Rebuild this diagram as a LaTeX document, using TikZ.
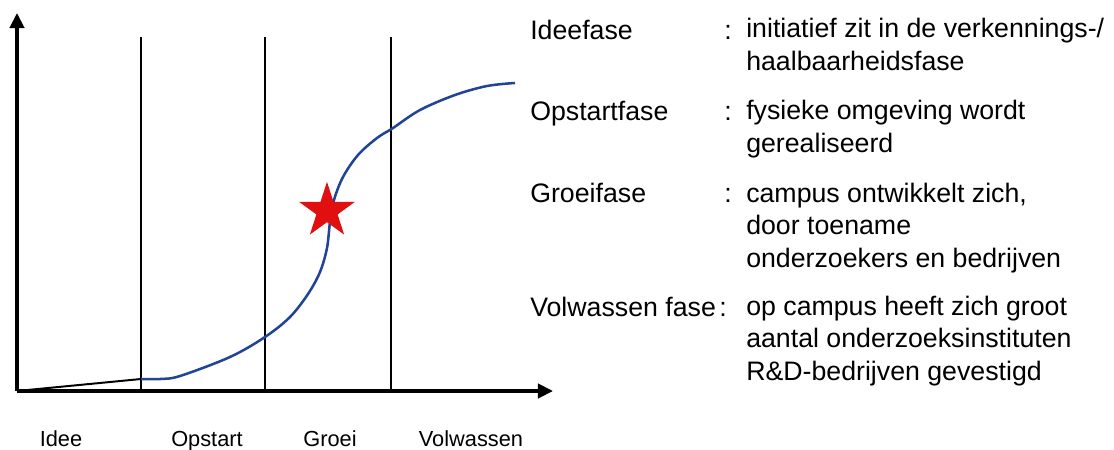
\documentclass[tikz,border=0pt]{standalone}
\usepackage{fontspec}
\setmainfont{Liberation Sans}
\usetikzlibrary{arrows.meta,shapes.geometric}
\definecolor{curveblue}{RGB}{34,68,150}
\definecolor{starred}{RGB}{225,16,16}
\begin{document}
\begin{tikzpicture}[x=0.025cm, y=-0.025cm,
        axis/.style={line width=2.5pt, -{Triangle[length=0.38cm, width=0.36cm]}},
        phaseline/.style={line width=1.4pt},
        growth/.style={curveblue, line width=1.8pt},
        phase/.style={font=\fontsize{15.5}{18}\selectfont, anchor=base},
        term/.style={font=\fontsize{19}{22.8}\selectfont, anchor=base west, inner sep=0pt},
        explain/.style={term, align=left}
    ]
        \useasboundingbox (0,0) rectangle (1114,449);
        \coordinate (O) at (17,391);
        \coordinate (ytop) at (17,13);
        \coordinate (xend) at (553,391);
        \coordinate (start) at (141,379);

        % phase borders
        \foreach \x/\n in {141/a, 265/b, 391/c} {
            \coordinate (\n top) at (\x,37);
            \coordinate (\n bot) at (\x,391);
            \draw[phaseline] (\n top) -- (\n bot);
        }

        \draw[axis] (O) -- (ytop);
        \draw[axis] (O) -- (xend);
        \draw[line width=1.4pt] (O) -- (start);

        % s-curve
        \draw[growth] plot[smooth, tension=0.55] coordinates {(141,379) (160,379) (180,376)
            (230,357) (265,337) (290,317) (308,294) (320,272) (327,248) (330,222) (334,200)
            (343,177) (358,155) (377,138) (393,128) (420,110) (455,95) (487,86) (515,83)};

        \node[star, star points=5, star point ratio=2.618, fill=starred, inner sep=0pt,
            minimum size=1.46cm] (now) at (327,211) {};

        \node[phase] (idee) at (61,446) {Idee};
        \node[phase] (opstart) at (207,446) {Opstart};
        \node[phase] (groei) at (330,446) {Groei};
        \node[phase] (volw) at (471,446) {Volwassen};

        % last line sets the base
        \node[term] (t1) at (530,39) {Ideefase};
        \node[term] (k1) at (724,39) {:};
        \node[explain] (d1) at (746,70) {initiatief zit in de verkennings-/\\haalbaarheidsfase};
        \node[term] (t2) at (530,120) {Opstartfase};
        \node[term] (k2) at (724,120) {:};
        \node[explain] (d2) at (746,152) {fysieke omgeving wordt\\gerealiseerd};
        \node[term] (t3) at (530,202) {Groeifase};
        \node[term] (k3) at (724,202) {:};
        \node[explain] (d3) at (746,267) {campus ontwikkelt zich,\\door toename\\onderzoekers en bedrijven};
        \node[term] (t4) at (530,316) {Volwassen fase};
        \node[term] (k4) at (719,316) {:};
        \node[explain] (d4) at (746,380) {op campus heeft zich groot\\aantal onderzoeksinstituten\\R\&D-bedrijven gevestigd};
\end{tikzpicture}
\end{document}
